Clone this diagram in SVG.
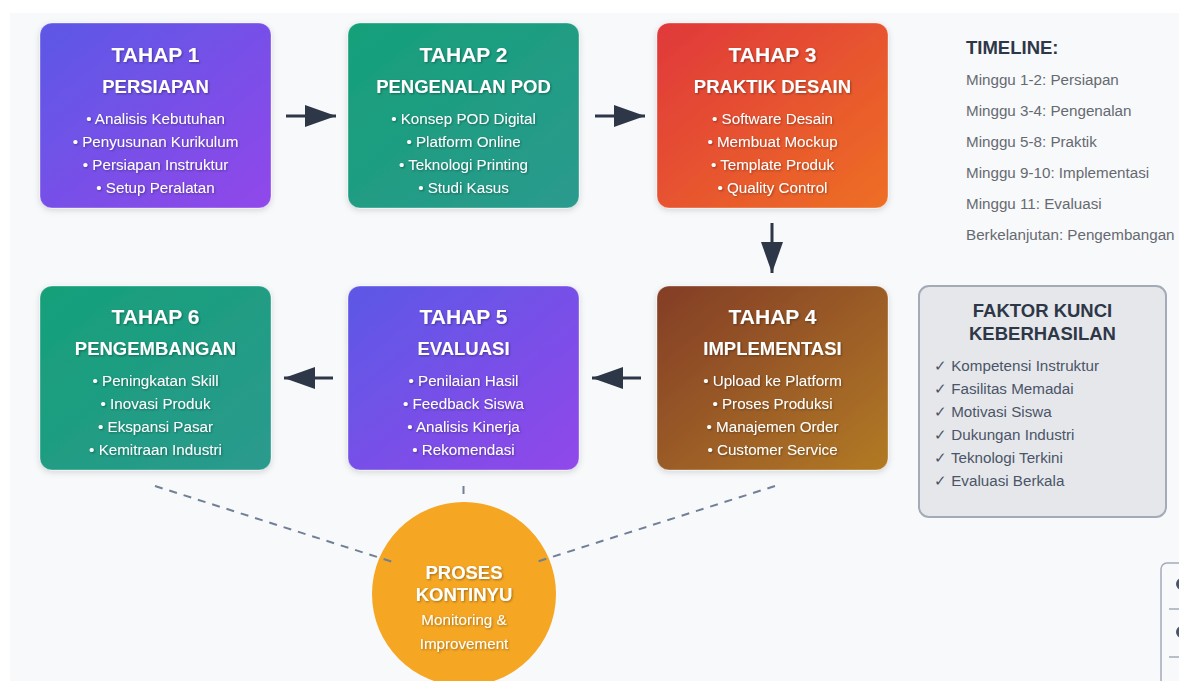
<svg xmlns="http://www.w3.org/2000/svg" width="1179" height="681" viewBox="0 0 1179 681">
<defs>
<linearGradient id="gPurple" x1="0" y1="0" x2="1" y2="1"><stop offset="0" stop-color="#5c58e6"/><stop offset="1" stop-color="#9148ea"/></linearGradient>
<linearGradient id="gGreen" x1="0" y1="0" x2="1" y2="1"><stop offset="0" stop-color="#15a079"/><stop offset="1" stop-color="#2b9a8e"/></linearGradient>
<linearGradient id="gRed" x1="0" y1="0" x2="1" y2="1"><stop offset="0" stop-color="#e0383b"/><stop offset="1" stop-color="#ee6f24"/></linearGradient>
<linearGradient id="gBrown" x1="0" y1="0" x2="1" y2="1"><stop offset="0" stop-color="#833d28"/><stop offset="1" stop-color="#b27a24"/></linearGradient>
<filter id="sh" x="-10%" y="-10%" width="120%" height="130%"><feDropShadow dx="0" dy="2" stdDeviation="3" flood-color="#000" flood-opacity="0.15"/></filter>
<filter id="ts" x="-5%" y="-20%" width="110%" height="150%"><feDropShadow dx="1" dy="1" stdDeviation="0.8" flood-color="#000" flood-opacity="0.35"/></filter>
<marker id="ah" markerUnits="userSpaceOnUse" markerWidth="32" markerHeight="24" refX="31" refY="11" orient="auto"><path d="M0,0 L31,11 L0,22 Z" fill="#2d3748"/></marker>
<style>
.box{stroke:#ffffff;stroke-opacity:0.35;stroke-width:1;filter:url(#sh)}
.t1{font-family:"Liberation Sans",Arial,sans-serif;font-weight:bold;font-size:21px;fill:#fff;text-anchor:middle;filter:url(#ts)}
.t2{font-family:"Liberation Sans",Arial,sans-serif;font-weight:bold;font-size:18.5px;fill:#fff;text-anchor:middle;filter:url(#ts)}
.li{font-family:"Liberation Sans",Arial,sans-serif;font-size:15.2px;fill:#fff;text-anchor:middle;filter:url(#ts)}
.tl{font-family:"Liberation Sans",Arial,sans-serif;font-size:15.2px;fill:#666a70}
.th{font-family:"Liberation Sans",Arial,sans-serif;font-weight:bold;font-size:18.5px;fill:#2d3748}
.fk{font-family:"Liberation Sans",Arial,sans-serif;font-size:15.2px;fill:#4a5568}
.arr{stroke:#2d3748;stroke-width:3;fill:none;marker-end:url(#ah)}
.dash{stroke:#718096;stroke-width:2;stroke-dasharray:8,7;fill:none}
</style>
</defs>
<rect x="0" y="0" width="1179" height="681" fill="#ffffff"/>
<rect x="10" y="13" width="1169" height="668" fill="#f8f9fb"/>

<g id="tahap1">
<rect class="box" x="40" y="23" width="231" height="185" rx="12" fill="url(#gPurple)"/>
<text class="t1" x="155.5" y="61.5">TAHAP 1</text>
<text class="t2" x="155.5" y="92.5">PERSIAPAN</text>
<text class="li" x="155.5" y="123.5">• Analisis Kebutuhan</text>
<text class="li" x="155.5" y="146.5">• Penyusunan Kurikulum</text>
<text class="li" x="155.5" y="169.5">• Persiapan Instruktur</text>
<text class="li" x="155.5" y="192.5">• Setup Peralatan</text>
</g>
<g id="tahap2">
<rect class="box" x="348" y="23" width="231" height="185" rx="12" fill="url(#gGreen)"/>
<text class="t1" x="463.5" y="61.5">TAHAP 2</text>
<text class="t2" x="463.5" y="92.5">PENGENALAN POD</text>
<text class="li" x="463.5" y="123.5">• Konsep POD Digital</text>
<text class="li" x="463.5" y="146.5">• Platform Online</text>
<text class="li" x="463.5" y="169.5">• Teknologi Printing</text>
<text class="li" x="463.5" y="192.5">• Studi Kasus</text>
</g>
<g id="tahap3">
<rect class="box" x="657" y="23" width="231" height="185" rx="12" fill="url(#gRed)"/>
<text class="t1" x="772.5" y="61.5">TAHAP 3</text>
<text class="t2" x="772.5" y="92.5">PRAKTIK DESAIN</text>
<text class="li" x="772.5" y="123.5">• Software Desain</text>
<text class="li" x="772.5" y="146.5">• Membuat Mockup</text>
<text class="li" x="772.5" y="169.5">• Template Produk</text>
<text class="li" x="772.5" y="192.5">• Quality Control</text>
</g>
<g id="tahap4">
<rect class="box" x="657" y="286" width="231" height="184" rx="12" fill="url(#gBrown)"/>
<text class="t1" x="772.5" y="323.5">TAHAP 4</text>
<text class="t2" x="772.5" y="354.5">IMPLEMENTASI</text>
<text class="li" x="772.5" y="385.5">• Upload ke Platform</text>
<text class="li" x="772.5" y="408.5">• Proses Produksi</text>
<text class="li" x="772.5" y="431.5">• Manajemen Order</text>
<text class="li" x="772.5" y="454.5">• Customer Service</text>
</g>
<g id="tahap5">
<rect class="box" x="348" y="286" width="231" height="184" rx="12" fill="url(#gPurple)"/>
<text class="t1" x="463.5" y="323.5">TAHAP 5</text>
<text class="t2" x="463.5" y="354.5">EVALUASI</text>
<text class="li" x="463.5" y="385.5">• Penilaian Hasil</text>
<text class="li" x="463.5" y="408.5">• Feedback Siswa</text>
<text class="li" x="463.5" y="431.5">• Analisis Kinerja</text>
<text class="li" x="463.5" y="454.5">• Rekomendasi</text>
</g>
<g id="tahap6">
<rect class="box" x="40" y="286" width="231" height="184" rx="12" fill="url(#gGreen)"/>
<text class="t1" x="155.5" y="323.5">TAHAP 6</text>
<text class="t2" x="155.5" y="354.5">PENGEMBANGAN</text>
<text class="li" x="155.5" y="385.5">• Peningkatan Skill</text>
<text class="li" x="155.5" y="408.5">• Inovasi Produk</text>
<text class="li" x="155.5" y="431.5">• Ekspansi Pasar</text>
<text class="li" x="155.5" y="454.5">• Kemitraan Industri</text>
</g>

<g id="timeline">
<text class="th" x="966" y="54">TIMELINE:</text>
<text class="tl" x="966" y="84.5">Minggu 1-2: Persiapan</text>
<text class="tl" x="966" y="115.5">Minggu 3-4: Pengenalan</text>
<text class="tl" x="966" y="146.5">Minggu 5-8: Praktik</text>
<text class="tl" x="966" y="177.5">Minggu 9-10: Implementasi</text>
<text class="tl" x="966" y="208.5">Minggu 11: Evaluasi</text>
<text class="tl" x="966" y="239.5">Berkelanjutan: Pengembangan</text>
</g>

<g id="faktor-kunci">
<rect x="919" y="286" width="247" height="231" rx="10" fill="#e6e7ea" stroke="#a3abb9" stroke-width="2"/>
<text class="th" x="1042.5" y="316.5" text-anchor="middle">FAKTOR KUNCI</text>
<text class="th" x="1042.5" y="339.5" text-anchor="middle">KEBERHASILAN</text>
<text class="fk" x="934" y="370.5">✓ Kompetensi Instruktur</text>
<text class="fk" x="934" y="393.5">✓ Fasilitas Memadai</text>
<text class="fk" x="934" y="416.5">✓ Motivasi Siswa</text>
<text class="fk" x="934" y="439.5">✓ Dukungan Industri</text>
<text class="fk" x="934" y="462.5">✓ Teknologi Terkini</text>
<text class="fk" x="934" y="485.5">✓ Evaluasi Berkala</text>
</g>

<g id="legend-partial">
<rect x="1161" y="563" width="40" height="130" rx="6" fill="#f8f9fb" stroke="#a3abb9" stroke-width="1.5"/>
<line x1="1169" y1="609" x2="1179" y2="609" stroke="#a3abb9" stroke-width="1.5"/>
<line x1="1169" y1="657" x2="1179" y2="657" stroke="#a3abb9" stroke-width="1.5"/>
<circle cx="1182" cy="584" r="6" fill="#4a5568"/>
<circle cx="1182" cy="632" r="6" fill="#4a5568"/>
</g>

<g id="proses-kontinyu">
<circle cx="464" cy="594" r="92" fill="#f5a623"/>
<text class="t2" x="464" y="578.5">PROSES</text>
<text class="t2" x="464" y="600.5">KONTINYU</text>
<text class="li" x="464" y="624.5">Monitoring &amp;</text>
<text class="li" x="464" y="648.5">Improvement</text>
</g>

<g id="connectors">
<line class="arr" x1="286" y1="116" x2="336" y2="116"/>
<line class="arr" x1="595" y1="116" x2="645" y2="116"/>
<line class="arr" x1="772" y1="223" x2="772" y2="273"/>
<line class="arr" x1="641" y1="378" x2="592" y2="378"/>
<line class="arr" x1="333" y1="378" x2="284" y2="378"/>
<line class="dash" x1="155" y1="486" x2="396" y2="563"/>
<line class="dash" x1="775" y1="486" x2="533" y2="563"/>
<line class="dash" x1="463.5" y1="486" x2="463.5" y2="494"/>
</g>
</svg>
